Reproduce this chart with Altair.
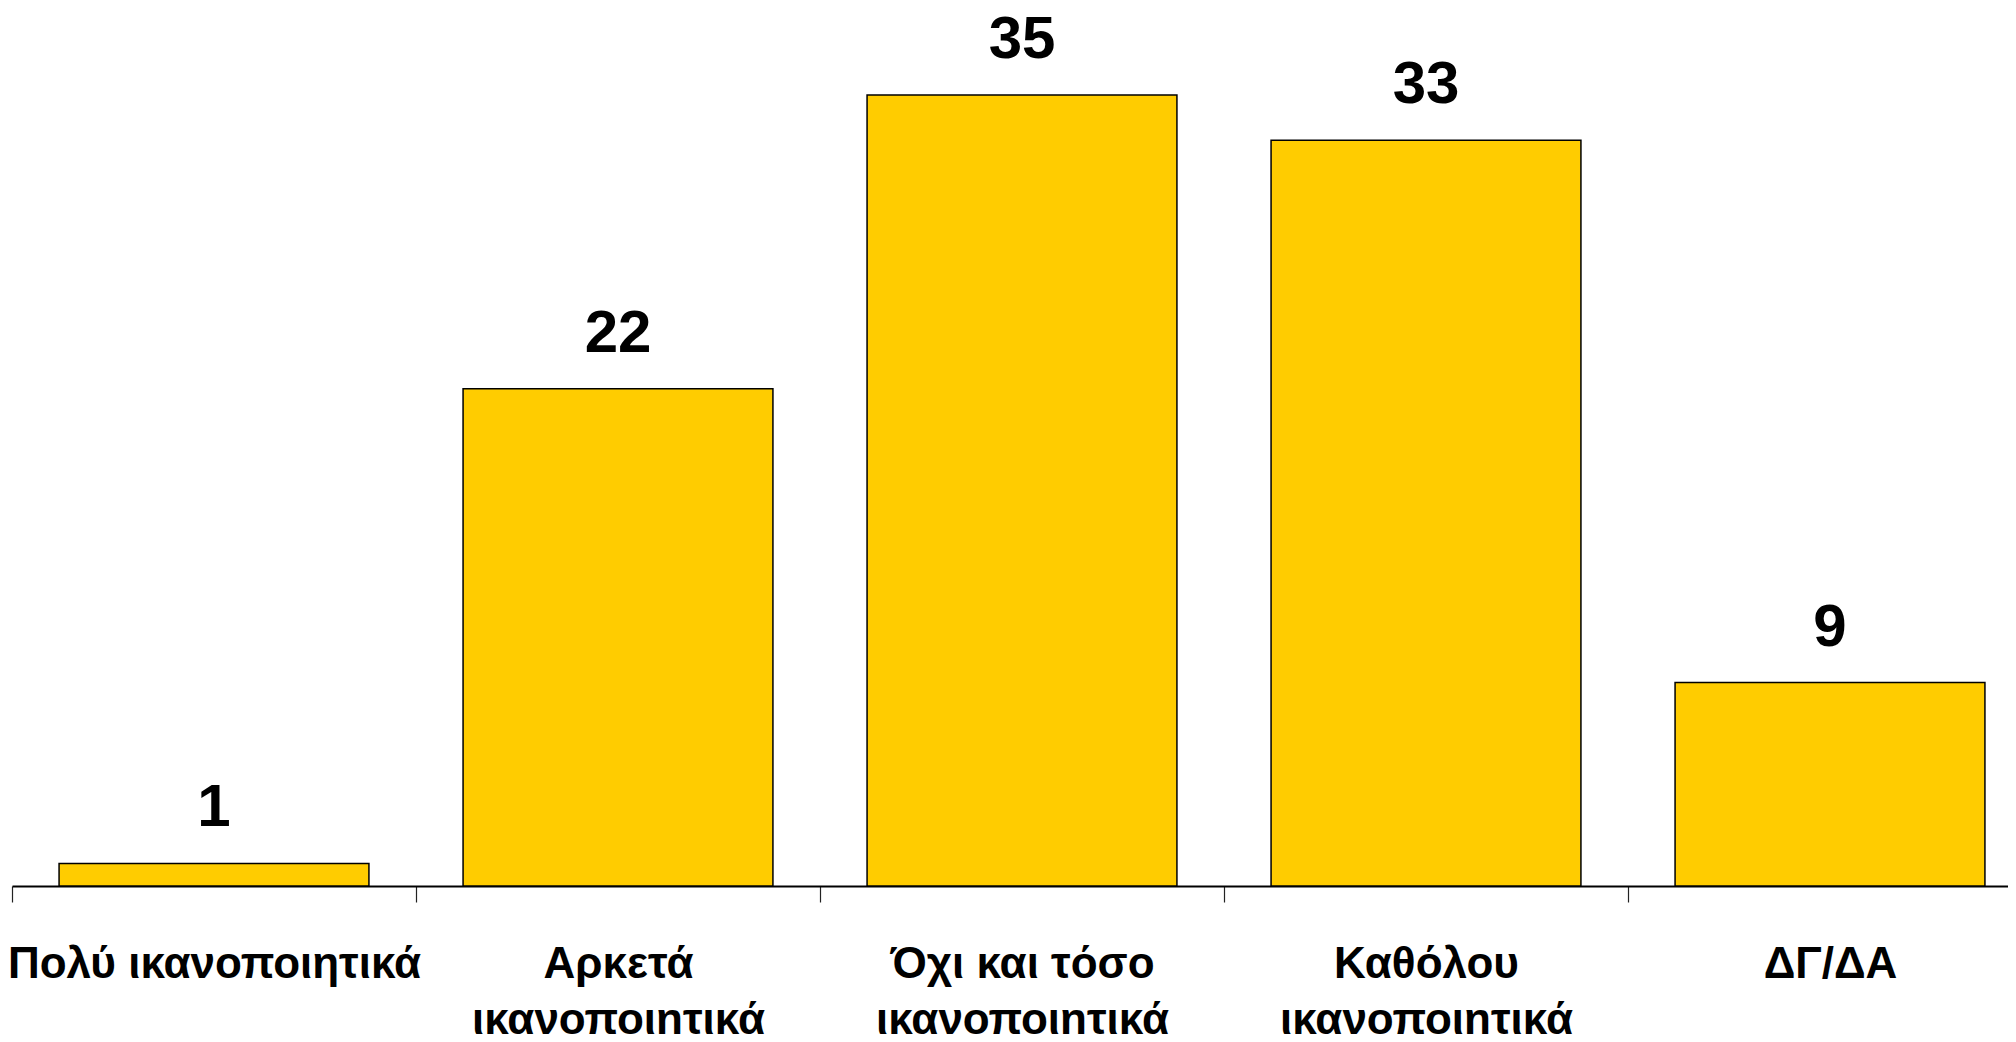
import altair as alt
import pandas as pd

categories = ["Πολύ ικανοποιητικά", "Αρκετά\nικανοποιητικά", "Όχι και τόσο\nικανοποιητικά",
              "Καθόλου\nικανοποιητικά", "ΔΓ/ΔΑ"]
values = [1, 22, 35, 33, 9]

FONT = "Liberation Sans Narrow, Liberation Sans, Arial, sans-serif"

df = pd.DataFrame({"cat": categories, "val": values})

x = alt.X(
    "cat:N", sort=categories, title=None,
    scale=alt.Scale(range=[0, 2020], paddingInner=0, paddingOuter=0),
    axis=alt.Axis(
        labelAngle=0, labelExpr="split(datum.label, '\\n')",
        labelFont=FONT, labelFontSize=44, labelFontWeight="bold", labelColor="black",
        labelLineHeight=56, labelBaseline="alphabetic", labelPadding=75, labelLimit=0,
        tickSize=16, tickBand="extent", tickColor="#222222", tickWidth=1.2,
        domainColor="black", domainWidth=2, grid=False,
    ),
)
y = alt.Y("val:Q", scale=alt.Scale(domain=[0, 38.85], nice=False, zero=True), axis=None)

base = alt.Chart(df).encode(x=x, y=y)
bars = base.mark_bar(color="#FFCC00", stroke="black", strokeWidth=1.5,
                     width=alt.RelativeBandSize(0.767))
labels = base.mark_text(dy=-37, baseline="alphabetic", fontSize=60, fontWeight="bold",
                        font=FONT, color="black").encode(text="val:Q")

chart = (bars + labels).properties(
    width=1996, height=878,
    autosize=alt.AutoSizeParams(type="none"),
    padding={"left": 4, "top": 0, "right": 0, "bottom": 148},
    background="white",
).configure_view(stroke=None)

chart.save("out.html", embed_options={"renderer": "svg", "actions": False})
